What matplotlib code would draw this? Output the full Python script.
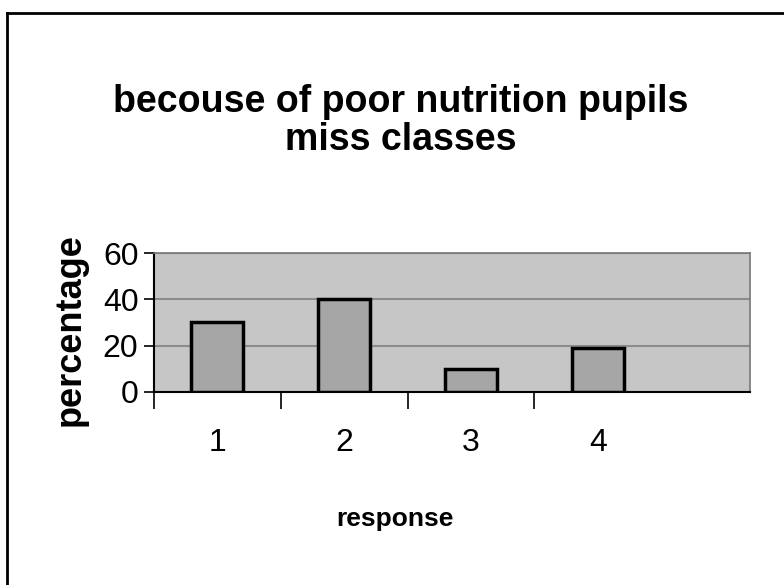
import matplotlib
matplotlib.use("Agg")
import matplotlib.pyplot as plt
from matplotlib.lines import Line2D

categories = ["1", "2", "3", "4"]
values = [30, 40, 10, 19]
yticks = [0, 20, 40, 60]

plt.rcParams['font.family'] = ['Liberation Sans', 'DejaVu Sans']

fig = plt.figure(figsize=(7.84, 5.85), dpi=100)
ax = fig.add_axes([0.196, 0.330, 0.761, 0.2375])

pos = list(range(len(categories)))
ax.set_facecolor("#c6c6c6")
ax.bar(pos, values, width=0.41, color="#a6a6a6", edgecolor="black", linewidth=2.5, zorder=3)
ax.set_ylim(0, 60)
ax.set_xlim(-0.5, 4.2)
ax.set_yticks(yticks)
ax.set_yticklabels([str(v) for v in yticks], fontsize=23)
ax.yaxis.grid(True, color="#8c8c8c", linewidth=1.5, zorder=1)
ax.set_axisbelow(True)

ax.set_xticks(pos)
ax.set_xticklabels(categories, fontsize=23)
ax.set_xticks([p - 0.5 for p in pos], minor=True)
ax.tick_params(axis="x", which="major", length=0, pad=26)
ax.tick_params(axis="x", which="minor", length=12, width=1.2, direction="out")
ax.tick_params(axis="y", length=7, width=1.2, pad=4)

for s in ["left", "bottom"]:
    ax.spines[s].set_color("black")
    ax.spines[s].set_linewidth(1.5)
for s in ["top", "right"]:
    ax.spines[s].set_color("#777777")
    ax.spines[s].set_linewidth(1.2)

ax.set_ylabel("percentage", fontsize=26, fontweight="bold")
ax.yaxis.set_label_coords(70 / 784, 1 - 330 / 585, transform=fig.transFigure)
ax.yaxis.label.set_va("center")
ax.set_xlabel("response", fontsize=19, fontweight="bold")
ax.xaxis.set_label_coords(395 / 784, 1 - 519 / 585, transform=fig.transFigure)
ax.xaxis.label.set_va("center")

fig.text(0.511, 1 - 102 / 585, "becouse of poor nutrition pupils", ha="center", va="center",
         fontsize=27, fontweight="bold")
fig.text(0.511, 1 - 140 / 585, "miss classes", ha="center", va="center",
         fontsize=27, fontweight="bold")

# outer chart frame (left and top edges visible)
fig.add_artist(Line2D([7 / 784, 7 / 784], [0, 1 - 13 / 585], transform=fig.transFigure,
                      color="black", linewidth=2))
fig.add_artist(Line2D([7 / 784, 1], [1 - 13 / 585, 1 - 13 / 585], transform=fig.transFigure,
                      color="black", linewidth=2))

fig.savefig("out.png", dpi=100)
